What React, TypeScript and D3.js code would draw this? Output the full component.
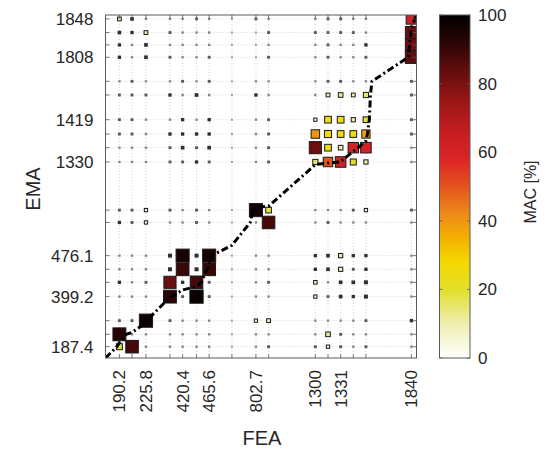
import React from "react";
import * as d3 from "d3";

// FEA mode frequencies (Hz), ascending along the x axis
const feaFreq = [190.2, 201.0, 225.8, 396.0, 420.4, 432.0, 465.6, 560.0, 802.7, 815.0, 1300, 1318, 1331, 1360, 1385, 1840];
// grid slot of each FEA mode on the stretched mode axis
const feaSlot = [0, 1, 2.1, 4, 5, 6.1, 7.1, 8.9, 10.8, 11.8, 15.5, 16.5, 17.5, 18.5, 19.5, 23.1];
const feaExtent = [-1.1, 23.5];
const feaTickLabels = ["190.2", "225.8", "420.4", "465.6", "802.7", "1300", "1331", "1840"];

// EMA mode frequencies (Hz), listed top to bottom (descending)
const emaFreq = [1848, 1835, 1822, 1808, 1445, 1430, 1419, 1400, 1370, 1330, 770.0, 745.0, 476.1, 460.0, 445.0, 399.2, 231.0, 196.0, 187.4];
const emaSlot = [25.2, 24.15, 23.2, 22.25, 20.4, 19.35, 17.45, 16.35, 15.3, 14.2, 10.5, 9.55, 7, 5.95, 4.95, 3.85, 2, 0.95, 0];
const emaExtent = [-0.87, 25.5];
const emaTickLabels = ["1848", "1808", "1419", "1330", "476.1", "399.2", "187.4"];

// frequency range shared by both axes (for the f_FEA = f_EMA reference line)
const freqRange = [175, 1852];

// MAC [%] between each EMA mode (rows, top to bottom) and FEA mode (columns)
const macRows = [
  [8, 4, 1, 1, 1, 2, 1, 0.5, 2, 1, 1, 2, 2, 1, 1, 62],
  [4, 3, 8, 2, 1, 1, 1, 0.5, 0.5, 2, 2, 2, 2, 2, 1, 82],
  [3, 1, 4, 1, 1, 1, 1, 0.5, 0.5, 1, 1, 2, 1, 1, 3, 82],
  [3, 1, 4, 2, 1, 1, 2, 0.5, 0.5, 2, 1, 2, 1, 1, 2, 84],
  [1, 2, 1, 1, 2, 1, 2, 0.5, 1, 1, 1, 2, 2, 1, 1, 2],
  [2, 2, 2, 3, 1, 4, 1, 0.5, 3, 1, 1, 8, 12, 8, 15, 2],
  [2, 2, 1, 1, 3, 1, 3, 0.5, 1, 2, 6, 25, 25, 10, 18, 2],
  [2, 2, 1, 3, 3, 3, 3, 0.5, 1, 2, 40, 28, 25, 25, 38, 2],
  [1, 1, 1, 2, 4, 2, 4, 0.5, 1, 2, 82, 25, 12, 60, 62, 1],
  [1, 1, 1, 2, 2, 3, 2, 0.5, 1, 2, 15, 50, 62, 20, 10, 1],
  [2, 2, 6, 2, 1, 2, 1, 0.5, 96, 18, 1, 1, 1, 2, 6, 2],
  [3, 2, 6, 1, 1, 2, 1, 0.5, 1, 88, 1, 2, 1, 1, 1, 1],
  [1, 1, 1, 5, 95, 5, 95, 0.5, 1, 1, 3, 4, 10, 3, 3, 1],
  [1, 1, 1, 5, 90, 5, 90, 0.5, 1, 1, 3, 4, 10, 2, 3, 1],
  [3, 1, 2, 82, 3, 88, 2, 0.5, 1, 2, 7, 1, 4, 4, 5, 1],
  [1, 1, 1, 92, 2, 98, 2, 0.5, 1, 1, 6, 2, 4, 3, 5, 1],
  [2, 2, 97, 2, 1, 1, 1, 0.5, 6, 8, 1, 1, 1, 1, 2, 3],
  [93, 1, 1, 1, 1, 1, 1, 0.5, 1, 1, 1, 12, 2, 1, 1, 1],
  [20, 88, 1, 1, 1, 1, 1, 0.5, 1, 2, 2, 6, 2, 1, 2, 1],
];

// colour map for MAC [%]
const cmapStops = [0, 10, 20, 28, 35, 42, 50, 58, 65, 75, 85, 92, 100];
const cmapColors = ["#ffffff", "#eeeeb0", "#e2df2a", "#f5d800", "#f4b000", "#ee8a18", "#e4541e", "#dc2426", "#c81e22", "#9a1616", "#5a0c0c", "#2a0505", "#000000"];
const colorbarTicks = [0, 20, 40, 60, 80, 100];

const FONT = "'Liberation Sans', Arial, Helvetica, sans-serif";

export default function App() {
  const W = 551;
  const H = 453;
  const plot = { left: 105.5, right: 416.5, top: 15, bottom: 358 };
  const cbar = { left: 439.5, right: 470, top: 15, bottom: 358 };

  const xSlot = d3.scaleLinear().domain(feaExtent).range([plot.left, plot.right]);
  const ySlot = d3.scaleLinear().domain(emaExtent).range([plot.bottom, plot.top]);

  // frequency -> slot (piecewise linear through the modes)
  const feaPairs = feaFreq.map((f, i) => [f, feaSlot[i]]).sort((a, b) => a[0] - b[0]);
  const emaPairs = emaFreq.map((f, i) => [f, emaSlot[i]]).sort((a, b) => a[0] - b[0]);
  const feaF2S = d3
    .scaleLinear()
    .domain([freqRange[0], ...feaPairs.map((p) => p[0]), freqRange[1]])
    .range([feaExtent[0], ...feaPairs.map((p) => p[1]), feaExtent[1]]);
  const emaF2S = d3
    .scaleLinear()
    .domain([freqRange[0], ...emaPairs.map((p) => p[0]), freqRange[1]])
    .range([emaExtent[0], ...emaPairs.map((p) => p[1]), emaExtent[1]]);

  const color = d3.scaleLinear<string>().domain(cmapStops).range(cmapColors).interpolate(d3.interpolateRgb).clamp(true);
  const cell = 13.4;
  const side = d3.scaleSqrt().domain([0, 100]).range([0, cell]);
  // weak correlations: the marker edge swallows the fill, so they show as grey dots
  const dotShade = d3.scaleLinear<string>().domain([0, 3]).range(["#b0b0b0", "#303030"]).clamp(true);

  const cells: { x: number; y: number; s: number; v: number; key: string }[] = [];
  macRows.forEach((row, i) =>
    row.forEach((v, j) => {
      cells.push({ x: xSlot(feaSlot[j]), y: ySlot(emaSlot[i]), s: side(v), v, key: `${i}-${j}` });
    })
  );
  cells.sort((a, b) => a.v - b.v);

  // f_FEA = f_EMA reference line
  const lineFreqs = Array.from(new Set([freqRange[0], ...feaFreq, ...emaFreq, freqRange[1]])).sort((a, b) => a - b);
  const refLine = d3.line()(lineFreqs.map((f) => [xSlot(feaF2S(f)), ySlot(emaF2S(f))] as [number, number]));

  const feaTickIdx = feaTickLabels.map((t) => feaFreq.indexOf(+t));
  const emaTickIdx = emaTickLabels.map((t) => emaFreq.indexOf(+t));

  const cbScale = d3.scaleLinear().domain([0, 100]).range([cbar.bottom, cbar.top]);
  const tickLen = 4;
  const textColor = "#262626";

  return (
    <svg width={W} height={H} style={{ position: "absolute", left: 0, top: 0, background: "#fff" }} fontFamily={FONT}>
      <defs>
        <linearGradient id="macGrad" x1="0" y1="1" x2="0" y2="0">
          {cmapStops.map((s, i) => (
            <stop key={s} offset={`${s}%`} stopColor={cmapColors[i]} />
          ))}
        </linearGradient>
        <clipPath id="plotClip">
          <rect x={plot.left} y={plot.top} width={plot.right - plot.left} height={plot.bottom - plot.top} />
        </clipPath>
      </defs>

      {/* grid */}
      <g stroke="#c8c8c8" strokeWidth={0.8} strokeDasharray="1 2">
        {feaSlot.map((s, j) => (
          <line key={`gx${j}`} x1={xSlot(s)} x2={xSlot(s)} y1={plot.top} y2={plot.bottom} />
        ))}
        {emaSlot.map((s, i) => (
          <line key={`gy${i}`} x1={plot.left} x2={plot.right} y1={ySlot(s)} y2={ySlot(s)} />
        ))}
      </g>

      {/* MAC squares */}
      <g clipPath="url(#plotClip)">
        {cells.map((c) =>
          c.s < 3 ? (
            <rect
              key={c.key}
              x={c.x - (c.s + 1) / 2}
              y={c.y - (c.s + 1) / 2}
              width={c.s + 1}
              height={c.s + 1}
              fill={dotShade(c.v)}
            />
          ) : (
            <rect
              key={c.key}
              x={c.x - c.s / 2}
              y={c.y - c.s / 2}
              width={c.s}
              height={c.s}
              fill={color(c.v)}
              stroke="#1a1a1a"
              strokeWidth={1}
            />
          )
        )}
        <path d={refLine || ""} fill="none" stroke="#000" strokeWidth={3} strokeDasharray="7 3 2 3" />
      </g>

      {/* axes box and ticks */}
      <rect x={plot.left} y={plot.top} width={plot.right - plot.left} height={plot.bottom - plot.top} fill="none" stroke="#5a5a5a" strokeWidth={1} />
      <g stroke="#5a5a5a" strokeWidth={0.8}>
        {feaSlot.map((s, j) => (
          <g key={`tx${j}`}>
            <line x1={xSlot(s)} x2={xSlot(s)} y1={plot.bottom} y2={plot.bottom - tickLen} />
            <line x1={xSlot(s)} x2={xSlot(s)} y1={plot.top} y2={plot.top + tickLen} />
          </g>
        ))}
        {emaSlot.map((s, i) => (
          <g key={`ty${i}`}>
            <line x1={plot.left} x2={plot.left + tickLen} y1={ySlot(s)} y2={ySlot(s)} />
            <line x1={plot.right} x2={plot.right - tickLen} y1={ySlot(s)} y2={ySlot(s)} />
          </g>
        ))}
      </g>

      {/* tick labels */}
      <g fontSize={17} fill={textColor}>
        {feaTickIdx.map((j, k) => (
          <text
            key={`lx${k}`}
            transform={`translate(${xSlot(feaSlot[j]) + 6},${plot.bottom + 12}) rotate(-90)`}
            textAnchor="end"
          >
            {feaTickLabels[k]}
          </text>
        ))}
        {emaTickIdx.map((i, k) => (
          <text key={`ly${k}`} x={plot.left - 12} y={ySlot(emaSlot[i])} dy="0.35em" textAnchor="end">
            {emaTickLabels[k]}
          </text>
        ))}
      </g>

      {/* axis titles */}
      <text x={(plot.left + plot.right) / 2 + 1} y={445} fontSize={20} textAnchor="middle" fill={textColor}>
        FEA
      </text>
      <text transform={`translate(40,189) rotate(-90)`} fontSize={20} textAnchor="middle" fill={textColor}>
        EMA
      </text>

      {/* colour bar */}
      <rect x={cbar.left} y={cbar.top} width={cbar.right - cbar.left} height={cbar.bottom - cbar.top} fill="url(#macGrad)" stroke="#5a5a5a" strokeWidth={1} />
      <g stroke="#5a5a5a" strokeWidth={0.8}>
        {colorbarTicks.map((t) => (
          <g key={`ct${t}`}>
            <line x1={cbar.right} x2={cbar.right - 3} y1={cbScale(t)} y2={cbScale(t)} />
            <line x1={cbar.left} x2={cbar.left + 3} y1={cbScale(t)} y2={cbScale(t)} />
          </g>
        ))}
      </g>
      <g fontSize={17} fill={textColor}>
        {colorbarTicks.map((t) => (
          <text key={`cl${t}`} x={cbar.right + 8} y={cbScale(t)} dy="0.35em">
            {t}
          </text>
        ))}
      </g>
      <text transform={`translate(536,192) rotate(-90)`} fontSize={16} textAnchor="middle" fill={textColor}>
        MAC [%]
      </text>
    </svg>
  );
}
